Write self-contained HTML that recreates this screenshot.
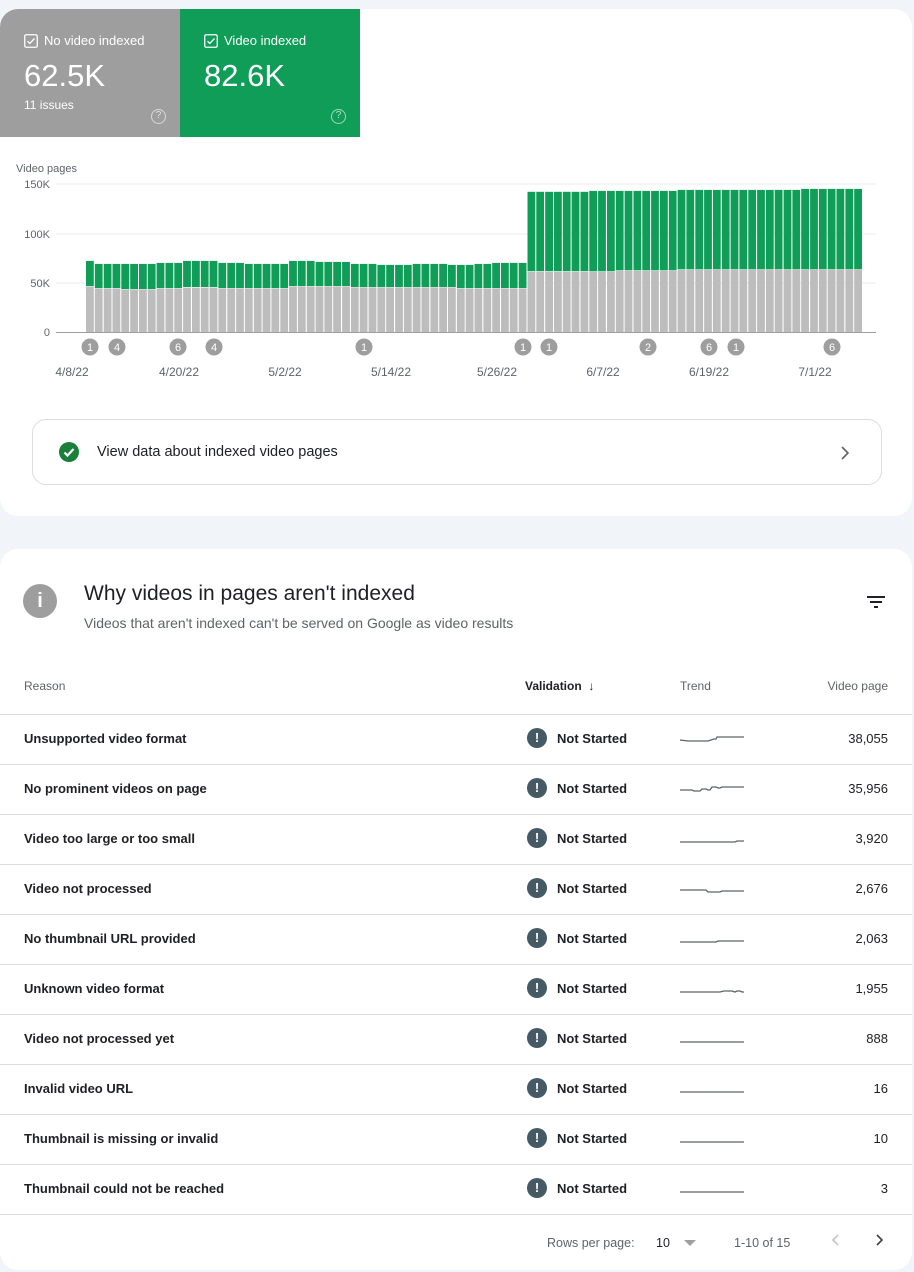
<!DOCTYPE html>
<html><head><meta charset="utf-8"><style>
*{margin:0;padding:0;box-sizing:border-box}
body{width:914px;height:1272px;background:#f1f4f9;font-family:"Liberation Sans",Arial,sans-serif;position:relative;overflow:hidden;color:#202124}
.card{position:absolute;background:#fff;border-radius:18px;overflow:hidden}
.a{position:absolute;white-space:nowrap}
.tab{position:absolute;top:0;height:128px;color:#fff}
.cb{position:absolute;width:14px;height:14px}
.q{position:absolute;width:15px;height:15px;border:1.5px solid rgba(255,255,255,.6);border-radius:50%;font-size:10px;text-align:center;line-height:12px;color:rgba(255,255,255,.7)}
.row{position:absolute;left:0;width:912px;height:50px;border-top:1px solid #dadce0}
.row .r{position:absolute;left:24px;top:16px;font-size:13px;font-weight:bold;color:#202124}
.row .ic{position:absolute;left:527px;top:13px;width:20px;height:20px;border-radius:50%;background:#455a64;color:#fff;font-size:13px;font-weight:bold;text-align:center;line-height:20px}
.row .ns{position:absolute;left:557px;top:16px;font-size:13px;font-weight:bold}
.row .n{position:absolute;right:24px;top:16px;font-size:13px}
.row svg{position:absolute;left:680px;top:10px}
</style></head><body>
<div class="card" style="left:0;top:9px;width:912px;height:507px">
 <div class="tab" style="left:0;width:180px;background:#9e9e9e">
  <svg class="cb" style="left:24px;top:25px" viewBox="0 0 14 14"><rect x=".75" y=".75" width="12.5" height="12.5" rx="1.5" fill="none" stroke="#fff" stroke-width="1.3"/><path d="M3.5 7.2l2.3 2.3 4.7-5" stroke="#fff" stroke-width="1.3" fill="none"/></svg>
  <div class="a" style="left:44px;top:24px;font-size:13px">No video indexed</div>
  <div class="a" style="left:24px;top:49px;font-size:31px">62.5K</div>
  <div class="a" style="left:24px;top:89px;font-size:12px">11 issues</div>
  <div class="q" style="left:151px;top:100px">?</div>
 </div>
 <div class="tab" style="left:180px;width:180px;background:#0f9d58">
  <svg class="cb" style="left:24px;top:25px" viewBox="0 0 14 14"><rect x=".75" y=".75" width="12.5" height="12.5" rx="1.5" fill="none" stroke="#fff" stroke-width="1.3"/><path d="M3.5 7.2l2.3 2.3 4.7-5" stroke="#fff" stroke-width="1.3" fill="none"/></svg>
  <div class="a" style="left:44px;top:24px;font-size:13px">Video indexed</div>
  <div class="a" style="left:24px;top:49px;font-size:31px">82.6K</div>
  <div class="q" style="left:151px;top:100px">?</div>
 </div>
 <svg id="ch" class="a" style="left:0;top:-9px" width="912" height="400"></svg>
 <div class="a" style="left:32px;top:410px;width:850px;height:66px;border:1px solid #dadce0;border-radius:14px">
  <svg class="a" style="left:26px;top:22px" width="20" height="20"><circle cx="10" cy="10" r="10" fill="#188038"/><path d="M5.5 10.5l3 3 6-6.5" stroke="#fff" stroke-width="2.2" fill="none"/></svg>
  <div class="a" style="left:64px;top:24px;font-size:14.5px;color:#202124">View data about indexed video pages</div>
  <svg class="a" style="left:806px;top:25px" width="12" height="16"><path d="M3 2l6 6-6 6" stroke="#5f6368" stroke-width="1.6" fill="none"/></svg>
 </div>
</div>
<div class="card" style="left:0;top:549px;width:912px;height:721px">
 <div class="a" style="left:23px;top:35px;width:34px;height:34px;border-radius:50%;background:#9e9e9e;color:#fff;text-align:center;font-weight:bold;font-size:20px;line-height:34px">i</div>
 <div class="a" style="left:84px;top:33px;font-size:21px;color:#202124">Why videos in pages aren't indexed</div>
 <div class="a" style="left:84px;top:66px;font-size:14px;color:#5f6368">Videos that aren't indexed can't be served on Google as video results</div>
 <svg class="a" style="left:866px;top:46px" width="20" height="16"><path d="M1 2h18M4 7h12M8 12h4" stroke="#202124" stroke-width="2"/></svg>
 <div class="a" style="left:24px;top:130px;font-size:12px;color:#5f6368">Reason</div>
 <div class="a" style="left:525px;top:130px;font-size:12px;font-weight:bold;color:#202124">Validation &nbsp;↓</div>
 <div class="a" style="left:680px;top:130px;font-size:12px;color:#5f6368">Trend</div>
 <div class="a" style="right:24px;top:130px;font-size:12px;color:#5f6368">Video page</div>
 <div id="rows"></div>
 <div class="a" style="left:0;top:665px;width:912px;border-top:1px solid #dadce0"></div>
 <div class="a" style="left:547px;top:687px;font-size:12.5px;color:#5f6368">Rows per page:</div>
 <div class="a" style="left:656px;top:687px;font-size:12.5px;color:#202124">10</div>
 <svg class="a" style="left:684px;top:690px" width="12" height="8"><path d="M0 1h12L6 7z" fill="#9aa0a6"/></svg>
 <div class="a" style="left:734px;top:687px;font-size:12.5px;color:#5f6368">1-10 of 15</div>
 <svg class="a" style="left:830px;top:684px" width="10" height="14"><path d="M8 2L3 7l5 5" stroke="#c4c7c5" stroke-width="1.6" fill="none"/></svg>
 <svg class="a" style="left:875px;top:684px" width="10" height="14"><path d="M2 2l5 5-5 5" stroke="#3c4043" stroke-width="1.6" fill="none"/></svg>
</div>
<script>
var s='';
[[184,'150K'],[234,'100K'],[283,'50K']].forEach(function(t){s+='<line x1="56" x2="876" y1="'+t[0]+'" y2="'+t[0]+'" stroke="#ebebeb"/><text x="50" y="'+(t[0]+4)+'" text-anchor="end" font-size="11" fill="#5f6368">'+t[1]+'</text>';});
s+='<text x="50" y="336" text-anchor="end" font-size="11" fill="#5f6368">0</text>';
s+='<text x="16" y="172" font-size="11" fill="#5f6368">Video pages</text>';
var y0=332,k=0.987,p=8.83;
var grayA=[46,44,44,44,43,43,43,43,44,44,44,45,45,45,45,44,44,44,44,44,44,44,44,46,46,46,46,46,46,46,45,45,45,45,45,45,45,45,45,45,45,45,44,44,44,44,44,44,44,44];
var totA=[72,69,69,69,69,69,69,69,70,70,70,72,72,72,72,70,70,70,69,69,69,69,69,72,72,72,71,71,71,71,69,69,69,68,68,68,68,69,69,69,69,68,68,68,69,69,70,70,70,70];
for(var i=0;i<88;i++){var gr,tt;
 if(i<50){gr=grayA[i];tt=totA[i];}else{var j=i-50;gr=j<10?61:(j<17?62:63);tt=j<7?142:(j<17?143:(j<31?144:145));}
 var x=86+i*p,w=p-1;
 s+='<rect x="'+x.toFixed(1)+'" y="'+(y0-tt*k).toFixed(1)+'" width="'+w.toFixed(1)+'" height="'+((tt-gr)*k-0.5).toFixed(1)+'" fill="#0f9d58"/>';
 s+='<rect x="'+x.toFixed(1)+'" y="'+(y0-gr*k).toFixed(1)+'" width="'+w.toFixed(1)+'" height="'+(gr*k).toFixed(1)+'" fill="#bdbdbd"/>';}
s+='<line x1="56" x2="876" y1="332.5" y2="332.5" stroke="#9e9e9e"/>';
[[90,1],[117,4],[178,6],[214,4],[364,1],[523,1],[549,1],[648,2],[709,6],[736,1],[832,6]].forEach(function(a){s+='<circle cx="'+a[0]+'" cy="347" r="8.5" fill="#9e9e9e"/><text x="'+a[0]+'" y="351" text-anchor="middle" font-size="11" fill="#fff">'+a[1]+'</text>';});
[[72,'4/8/22'],[179,'4/20/22'],[285,'5/2/22'],[391,'5/14/22'],[497,'5/26/22'],[603,'6/7/22'],[709,'6/19/22'],[815,'7/1/22']].forEach(function(a){s+='<text x="'+a[0]+'" y="376" text-anchor="middle" font-size="12" fill="#5f6368">'+a[1]+'</text>';});
document.getElementById('ch').innerHTML=s;
var rows=[['Unsupported video format','38,055','M0 4L8 5H28L34 3H36L37 1H64'],['No prominent videos on page','35,956','M0 4H12L14 5H20L22 3H26L28 4H30L32 1H36L38 2H40L42 1H64'],['Video too large or too small','3,920','M0 6H55L57 5H64'],['Video not processed','2,676','M0 4H26L28 6H40L42 5H64'],['No thumbnail URL provided','2,063','M0 6H36L38 5H64'],['Unknown video format','1,955','M0 6H40L44 5H52L55 6L57 5H60L62 6H64'],['Video not processed yet','888','M0 6H64'],['Invalid video URL','16','M0 6H64'],['Thumbnail is missing or invalid','10','M0 6H64'],['Thumbnail could not be reached','3','M0 6H64']];
var h='';rows.forEach(function(r,i){h+='<div class="row" style="top:'+(165+i*50)+'px"><div class="r">'+r[0]+'</div><div class="ic">!</div><div class="ns">Not Started</div><svg width="64" height="30"><path d="'+r[2]+'" transform="translate(0,11)" stroke="#5f6368" stroke-width="1.3" fill="none"/></svg><div class="n">'+r[1]+'</div></div>';});
document.getElementById('rows').innerHTML=h;
</script>
</body></html>
